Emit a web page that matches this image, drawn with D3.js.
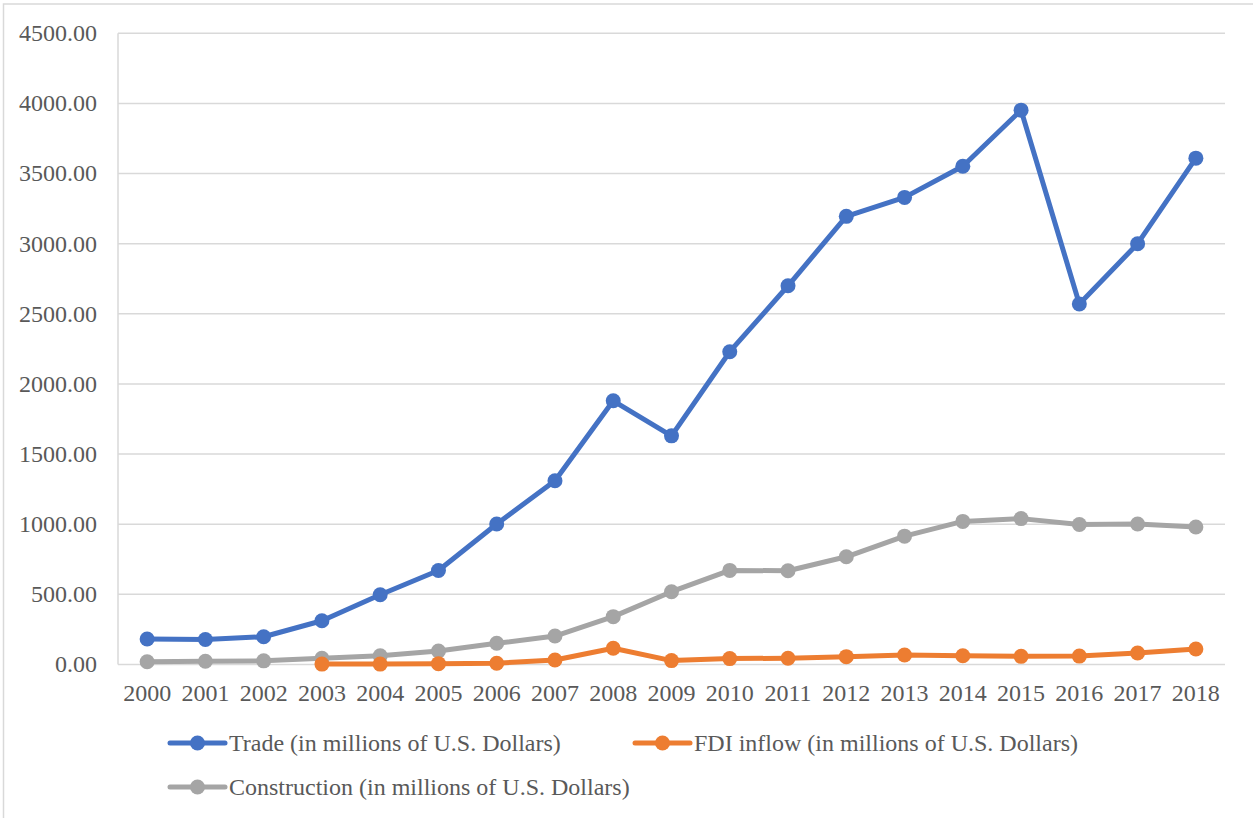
<!DOCTYPE html>
<html><head><meta charset="utf-8">
<script src="https://cdn.jsdelivr.net/npm/d3@7"></script>
<style>body{margin:0;background:#fff}svg{display:block}
text{font-family:"Liberation Serif","DejaVu Serif",serif;}</style>
</head><body>
<script>
const years = ["2000","2001","2002","2003","2004","2005","2006","2007","2008","2009","2010","2011","2012","2013","2014","2015","2016","2017","2018"];
const trade = [182,178,198,312,497,670,1002,1310,1880,1630,2230,2700,3195,3330,3552,3952,2570,3000,3610];
const fdi = [null,null,null,3,3,6,9,32,116,28,42,45,56,68,62,58,60,82,110];
const construction = [20,23,26,44,62,96,151,203,341,519,671,668,768,915,1020,1040,998,1002,980];
const yTicks = [0,500,1000,1500,2000,2500,3000,3500,4000,4500];
const seriesNames = ["Trade (in millions of U.S. Dollars)","FDI inflow (in millions of U.S. Dollars)","Construction (in millions of U.S. Dollars)"];
const colors = ["#4472c4","#ed7d31","#a5a5a5"];

const W=1253,H=818;
const svg=d3.select("body").append("svg").attr("width",W).attr("height",H);
svg.append("rect").attr("x",3.5).attr("y",4).attr("width",W+10).attr("height",H+10).attr("fill","#fff").attr("stroke","#d9d9d9").attr("stroke-width",1.5);

const fs=24;
const x=d3.scaleBand().domain(years).range([118,1225]);
const y=d3.scaleLinear().domain([0,4500]).range([664.5,33.3]);

svg.append("g").selectAll("line").data(yTicks).join("line")
  .attr("x1",118).attr("x2",1225).attr("y1",d=>y(d)).attr("y2",d=>y(d))
  .attr("stroke","#d9d9d9").attr("stroke-width",1.5);
svg.append("line").attr("x1",118).attr("x2",118).attr("y1",y(4500)).attr("y2",y(0)).attr("stroke","#d9d9d9").attr("stroke-width",1.5);

svg.append("g").selectAll("text").data(yTicks).join("text")
  .attr("x",97).attr("y",d=>y(d)).attr("dy","0.33em").attr("text-anchor","end")
  .attr("font-size",fs).attr("fill","#595959")
  .text(d=>d3.format(".2f")(d));
svg.append("g").selectAll("text").data(years).join("text")
  .attr("x",d=>x(d)+x.bandwidth()/2).attr("y",701).attr("text-anchor","middle")
  .attr("font-size",fs).attr("fill","#595959")
  .text(d=>d);

const cx=d=>x(d)+x.bandwidth()/2;
const all=[trade,fdi,construction];
[2,1,0].forEach(i=>{
  const pts=years.map((yr,j)=>({yr,v:all[i][j]})).filter(p=>p.v!=null);
  const line=d3.line().x(p=>cx(p.yr)).y(p=>y(p.v));
  svg.append("path").attr("d",line(pts)).attr("fill","none").attr("stroke",colors[i]).attr("stroke-width",5).attr("stroke-linejoin","round").attr("stroke-linecap","round");
  svg.append("g").selectAll("circle").data(pts).join("circle")
    .attr("cx",p=>cx(p.yr)).attr("cy",p=>y(p.v)).attr("r",7.5).attr("fill",colors[i]);
});

const leg=[{x:170,y:743,i:0},{x:635,y:743,i:1},{x:170,y:787,i:2}];
leg.forEach(l=>{
  svg.append("line").attr("x1",l.x).attr("x2",l.x+55).attr("y1",l.y).attr("y2",l.y).attr("stroke",colors[l.i]).attr("stroke-width",5).attr("stroke-linecap","round");
  svg.append("circle").attr("cx",l.x+27.5).attr("cy",l.y).attr("r",7.5).attr("fill",colors[l.i]);
  svg.append("text").attr("x",l.x+59).attr("y",l.y).attr("dy","0.33em").attr("font-size",fs).attr("fill","#595959").text(seriesNames[l.i]);
});
</script>
</body></html>
